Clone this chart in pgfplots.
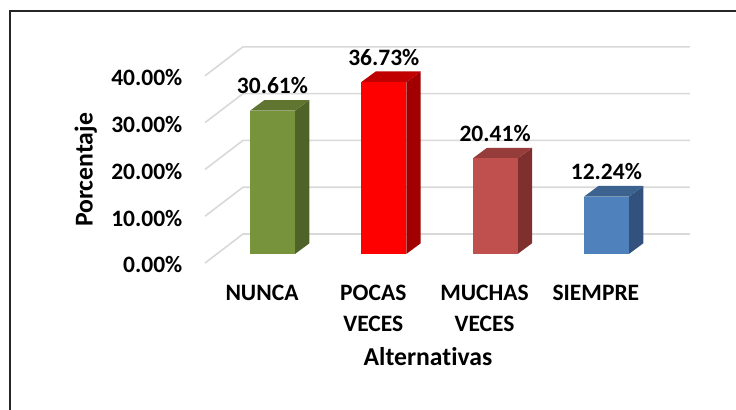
\documentclass[border=0pt]{standalone}
\usepackage{pgfplots}
\pgfplotsset{compat=1.18}
\usetikzlibrary{backgrounds}
\usepackage{fontspec}
\setmainfont{Carlito}[Ligatures=NoCommon]
\definecolor{gA}{HTML}{77933C}\definecolor{gAt}{HTML}{5F7530}\definecolor{gAs}{HTML}{4F6228}
\definecolor{rB}{HTML}{FF0000}\definecolor{rBt}{HTML}{C00000}\definecolor{rBs}{HTML}{A20000}
\definecolor{mC}{HTML}{C0504D}\definecolor{mCt}{HTML}{963C3A}\definecolor{mCs}{HTML}{7F302E}
\definecolor{bD}{HTML}{4F81BD}\definecolor{bDt}{HTML}{3C6290}\definecolor{bDs}{HTML}{32527D}
\definecolor{gridc}{HTML}{D9D9D9}
\begin{document}
\begin{tikzpicture}[x=0.5pt,y=0.5pt]
\begin{axis}[
  x=55.65pt, y=2.34pt,
  xmin=-0.606, xmax=3.76, ymin=-4, ymax=46,
  clip=false,
  axis line style={draw=none},
  tick style={draw=none},
  ytick={-2.35,7.65,17.65,27.65,37.65},
  yticklabels={0.00\%,10.00\%,20.00\%,30.00\%,40.00\%},
  yticklabel style={anchor=east, inner sep=0pt, xshift=-11.15pt,
     font=\fontsize{11.75}{14}\selectfont\bfseries},
  xtick={0,1,2,3},
  xticklabels={NUNCA,{POCAS\\VECES},{MUCHAS\\VECES},SIEMPRE},
  xticklabel style={anchor=north, align=center, inner sep=0pt, xshift=-5.25pt, yshift=-6.15pt,
     font=\fontsize{11.75}{15.5}\selectfont\bfseries},
  xlabel={Alternativas},
  xlabel style={at={(axis description cs:0.4588,0)}, anchor=base, yshift=-46.6pt,
     font=\fontsize{12.85}{15}\selectfont\bfseries},
  ylabel={Porcentaje},
  ylabel style={at={(axis description cs:-0.2315,0.4389)}, anchor=base,
     font=\fontsize{12.85}{15}\selectfont\bfseries},
  every node near coord/.append style={anchor=center, yshift=12.5pt, text=black,
     font=\fontsize{11.75}{14}\selectfont\bfseries},
]
\coordinate (O) at (axis cs:0,0);
% back wall gridlines
\addplot[gridc, line width=0.8pt, forget plot] coordinates {(-0.606,-1.92) (-0.265,4.27) (3.751,4.27)};
\addplot[gridc, line width=0.8pt, forget plot] coordinates {(-0.606,8.08) (-0.265,14.27) (3.751,14.27)};
\addplot[gridc, line width=0.8pt, forget plot] coordinates {(-0.606,18.08) (-0.265,24.27) (3.751,24.27)};
\addplot[gridc, line width=0.8pt, forget plot] coordinates {(-0.606,28.08) (-0.265,34.27) (3.751,34.27)};
\addplot[gridc, line width=0.8pt, forget plot] coordinates {(-0.606,38.08) (-0.265,44.27) (3.751,44.27)};
% NUNCA 30.61
\addplot[fill=gAs, draw=none] coordinates {(0.202,0) (0.332,2.29) (0.332,32.90) (0.202,30.61)} --cycle;
\addplot[fill=gAt, draw=none] coordinates {(-0.202,30.61) (-0.072,32.90) (0.332,32.90) (0.202,30.61)} --cycle;
\addplot[ybar, bar width=0.404, bar shift=0pt, fill=gA, draw=none,
  nodes near coords, point meta=explicit symbolic] coordinates {(0,30.61) [30.61\%]};
% POCAS VECES 36.73
\addplot[fill=rBs, draw=none] coordinates {(1.202,0) (1.332,2.29) (1.332,39.02) (1.202,36.73)} --cycle;
\addplot[fill=rBt, draw=none] coordinates {(0.798,36.73) (0.928,39.02) (1.332,39.02) (1.202,36.73)} --cycle;
\addplot[ybar, bar width=0.404, bar shift=0pt, fill=rB, draw=none,
  nodes near coords, point meta=explicit symbolic] coordinates {(1,36.73) [36.73\%]};
% MUCHAS VECES 20.41
\addplot[fill=mCs, draw=none] coordinates {(2.202,0) (2.332,2.29) (2.332,22.70) (2.202,20.41)} --cycle;
\addplot[fill=mCt, draw=none] coordinates {(1.798,20.41) (1.928,22.70) (2.332,22.70) (2.202,20.41)} --cycle;
\addplot[ybar, bar width=0.404, bar shift=0pt, fill=mC, draw=none,
  nodes near coords, point meta=explicit symbolic] coordinates {(2,20.41) [20.41\%]};
% SIEMPRE 12.24
\addplot[fill=bDs, draw=none] coordinates {(3.202,0) (3.332,2.29) (3.332,14.53) (3.202,12.24)} --cycle;
\addplot[fill=bDt, draw=none] coordinates {(2.798,12.24) (2.928,14.53) (3.332,14.53) (3.202,12.24)} --cycle;
\addplot[ybar, bar width=0.404, bar shift=0pt, fill=bD, draw=none,
  nodes near coords, point meta=explicit symbolic] coordinates {(3,12.24) [12.24\%]};
\end{axis}
\pgfresetboundingbox
\path[use as bounding box, shift={(O)}] (-272.5,254) rectangle (463.5,-156);
\begin{scope}[on background layer]
\fill[white, shift={(O)}] (-272.5,254) rectangle (463.5,-156);
\end{scope}
\begin{scope}[shift={(O)}]
\clip (-272.5,254) rectangle (463.5,-156);
\draw[line width=1pt, black!85] (-262.5,243) rectangle (500,-200);
\end{scope}
\end{tikzpicture}
\end{document}
